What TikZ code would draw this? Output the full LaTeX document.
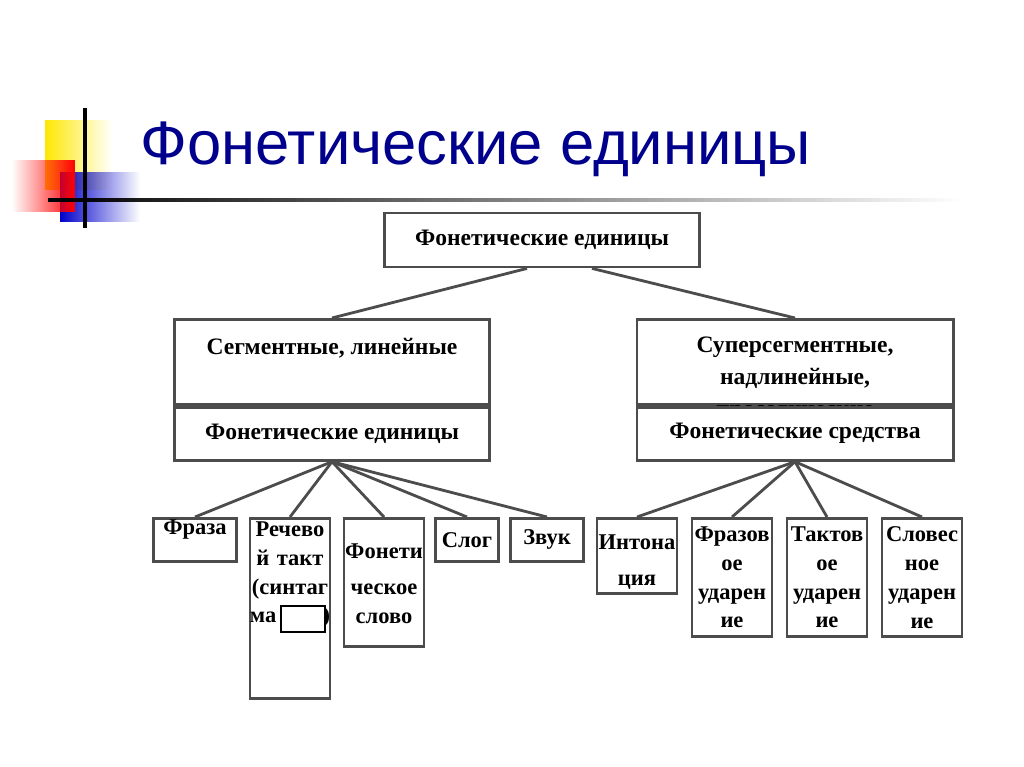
\documentclass[tikz,border=0pt]{standalone}
\usepackage{fontspec}
\setmainfont{Liberation Serif}
\newfontfamily\titlefont{Liberation Sans}
\usetikzlibrary{positioning,fadings}
\tikzset{
  unit/.style={draw=black!70, thick, fill=white, font=\fontsize{6.7}{9}\selectfont\bfseries, align=center},
  leaf/.style={unit, anchor=north, inner sep=0pt, text width=0.8cm, font=\fontsize{6.4}{8.2}\selectfont\bfseries},
  link/.style={draw=black!70, thick}
}
\begin{document}
\begin{tikzpicture}[x=0.01cm,y=-0.01cm]
  \useasboundingbox (0,0) rectangle (1024,767);
  % decoration
  \fill[yellow!90!orange, path fading=east] (45,120) rectangle (112,190);
  \fill[blue!80!black, path fading=east] (60,172) rectangle (140,222);
  \fill[red, path fading=west] (12,160) rectangle (75,212);
  \draw[line width=1.2pt] (85,108) -- (85,228);
  \draw[line width=1.2pt, path fading=east] (48,200) -- (960,200);
  % title
  \node[anchor=base west, inner sep=0pt, text=blue!55!black, font=\titlefont\fontsize{17.5}{20}\selectfont] (title) at (140,165) {Фонетические единицы};
  % root
  \node[unit, minimum width=3.15cm, minimum height=0.54cm] (root) at (542,240) {Фонетические единицы};
  % left branch
  \node[unit, minimum width=3.15cm, minimum height=0.85cm, anchor=north] (segm) at (332,318) {};
  \node[anchor=north, font=\fontsize{6.7}{9}\selectfont\bfseries] at (332,326) {Сегментные, линейные};
  \node[unit, minimum width=3.15cm, minimum height=0.53cm, anchor=north] (segunit) at (segm.south) {Фонетические единицы};
  % right branch
  \node[unit, minimum width=3.16cm, minimum height=0.85cm, anchor=north] (supra) at (795,318) {};
  \node[anchor=north, align=center, font=\fontsize{6.7}{9.2}\selectfont\bfseries] at (795,324) {Суперсегментные,\\надлинейные,\\просодические};
  \node[unit, minimum width=3.16cm, minimum height=0.53cm, anchor=north] (supraunit) at (supra.south) {Фонетические средства};
  \draw[link] (root.south) ++(-15,0) -- (segm.north);
  \draw[link] (root.south) ++(50,0) -- (supra.north);
  % left leaves
  \node[leaf, minimum height=0.43cm, text width=0.83cm] (phrase) at (195,517) {\vspace{2pt}Фраза\vspace{4pt}};
  \node[leaf, minimum height=1.8cm] (tact) at (290,517) {};
  \node[anchor=north, align=left, inner sep=0pt, text width=0.8cm, font=\fontsize{6.4}{8.2}\selectfont\bfseries] at (290,521) {\centering Речево\\й такт\\(синтаг\\\raggedright ма\hfill)\par};
  \node[draw=black, fill=white, minimum width=0.44cm, minimum height=0.26cm, inner sep=0pt] (hide) at (303,619) {};
  \node[leaf, minimum height=1.28cm, text depth=0.62cm] (pword) at (384,517) {\vspace{2pt}Фонети\\ческое\\слово};
  \node[leaf, minimum height=0.43cm, text width=0.63cm] (syll) at (467,517) {Слог};
  \node[leaf, minimum height=0.43cm, text width=0.73cm] (sound) at (547,517) {Звук};
  \foreach \c in {phrase,tact,pword,syll,sound}
    \draw[link] (segunit.south) -- (\c.north);
  % right leaves
  \node[leaf, minimum height=0.75cm, text depth=0.28cm] (inton) at (637,517) {\vspace{2pt}Интона\\ция};
  \node[leaf, minimum height=1.18cm] (phrstr) at (732,517) {Фразов\\ое\\ударен\\ие};
  \node[leaf, minimum height=1.18cm] (tactstr) at (827,517) {Тактов\\ое\\ударен\\ие};
  \node[leaf, minimum height=1.18cm] (wordstr) at (922,517) {Словес\\ное\\ударен\\ие};
  \foreach \c in {inton,phrstr,tactstr,wordstr}
    \draw[link] (supraunit.south) -- (\c.north);
\end{tikzpicture}
\end{document}
